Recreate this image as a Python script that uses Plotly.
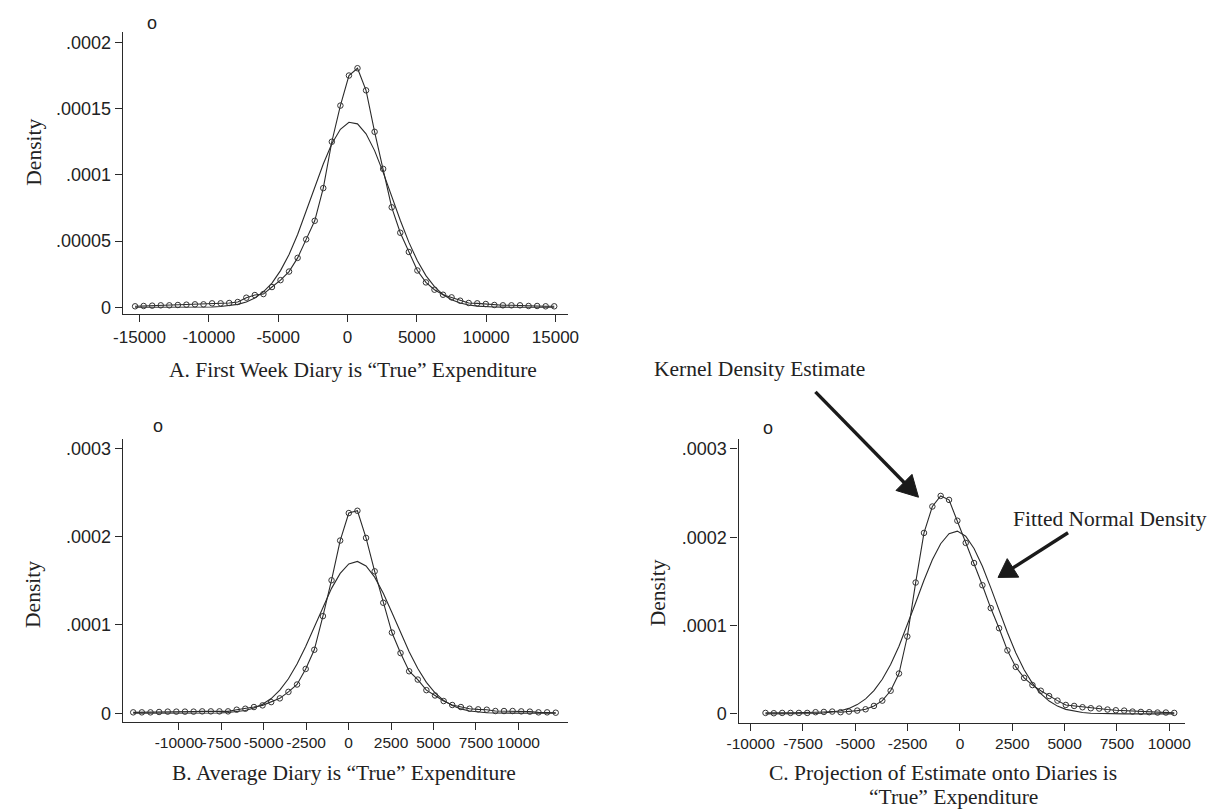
import math
import plotly.graph_objects as go

# ---------------- data ----------------
# Panel A: First week diary
a_x = [-15320, -14703, -14086, -13469, -12852, -12235, -11618, -11001, -10384, -9767,
       -9150, -8533, -7916, -7299, -6682, -6065, -5448, -4831, -4214, -3597,
       -2980, -2363, -1746, -1129, -512, 105, 722, 1339, 1956, 2573,
       3190, 3807, 4424, 5041, 5658, 6275, 6892, 7509, 8126, 8743,
       9360, 9977, 10594, 11211, 11828, 12445, 13062, 13679, 14296, 14913]
a_kernel = [0.75e-6, 1.0e-6, 1.25e-6, 1.5e-6, 1.5e-6, 1.75e-6, 2.0e-6, 2.25e-6, 2.25e-6, 3.0e-6,
            3.0e-6, 3.25e-6, 4.0e-6, 7.25e-6, 9.25e-6, 1.0e-5, 1.53e-5, 2.05e-5, 2.7e-5, 3.73e-5,
            5.13e-5, 6.53e-5, 9.0e-5, 1.25e-4, 1.523e-4, 1.75e-4, 1.805e-4, 1.638e-4, 1.325e-4, 1.045e-4,
            7.55e-5, 5.63e-5, 4.18e-5, 2.78e-5, 1.88e-5, 1.33e-5, 9.5e-6, 7.5e-6, 5.0e-6, 3.25e-6,
            3.0e-6, 2.5e-6, 1.75e-6, 1.5e-6, 1.5e-6, 1.5e-6, 1.0e-6, 1.0e-6, 0.75e-6, 0.75e-6]
a_normal = [0, 0, 0, 0, 0, 0, 0, 0.05e-6, 0.12e-6, 0.27e-6,
            0.57e-6, 1.15e-6, 2.2e-6, 4.0e-6, 7.0e-6, 1.16e-5, 1.83e-5, 2.77e-5, 3.99e-5, 5.50e-5,
            7.22e-5, 9.05e-5, 1.082e-4, 1.235e-4, 1.344e-4, 1.397e-4, 1.385e-4, 1.310e-4, 1.183e-4, 1.019e-4,
            8.37e-5, 6.57e-5, 4.92e-5, 3.51e-5, 2.39e-5, 1.56e-5, 9.6e-6, 5.7e-6, 3.2e-6, 1.7e-6,
            0.9e-6, 0.44e-6, 0.2e-6, 0.1e-6, 0, 0, 0, 0, 0, 0]

# Panel B: Average diary
b_x = [-12687, -12179, -11671, -11163, -10655, -10147, -9639, -9131, -8623, -8115,
       -7607, -7099, -6591, -6083, -5575, -5067, -4559, -4051, -3543, -3035,
       -2527, -2019, -1511, -1003, -495, 13, 521, 1029, 1537, 2045,
       2553, 3061, 3569, 4077, 4585, 5093, 5601, 6109, 6617, 7125,
       7633, 8141, 8649, 9157, 9665, 10173, 10681, 11189, 11697, 12205]
b_kernel = [1.1e-6, 1.1e-6, 1.1e-6, 1.5e-6, 1.9e-6, 1.9e-6, 1.9e-6, 1.9e-6, 2.2e-6, 2.2e-6,
            2.2e-6, 2.2e-6, 4.1e-6, 5.2e-6, 7.1e-6, 9.0e-6, 1.27e-5, 1.69e-5, 2.43e-5, 3.26e-5,
            5.02e-5, 7.19e-5, 1.10e-4, 1.506e-4, 1.955e-4, 2.266e-4, 2.292e-4, 1.985e-4, 1.607e-4, 1.251e-4,
            9.14e-5, 6.82e-5, 4.76e-5, 3.82e-5, 2.62e-5, 2.02e-5, 1.39e-5, 9.4e-6, 7.1e-6, 5.2e-6,
            4.5e-6, 4.1e-6, 2.6e-6, 2.6e-6, 2.6e-6, 2.2e-6, 1.9e-6, 1.1e-6, 1.1e-6, 0.7e-6]
b_normal = [0, 0, 0, 0, 0, 0, 0, 0, 0.08e-6, 0.19e-6,
            0.41e-6, 0.86e-6, 1.72e-6, 3.26e-6, 5.9e-6, 1.02e-5, 1.67e-5, 2.62e-5, 3.91e-5, 5.57e-5,
            7.55e-5, 9.77e-5, 1.204e-4, 1.414e-4, 1.583e-4, 1.690e-4, 1.719e-4, 1.667e-4, 1.541e-4, 1.358e-4,
            1.140e-4, 9.13e-5, 6.97e-5, 5.07e-5, 3.51e-5, 2.32e-5, 1.46e-5, 8.8e-6, 5.0e-6, 2.7e-6,
            1.4e-6, 0.7e-6, 0.3e-6, 0.13e-6, 0, 0, 0, 0, 0, 0]

# Panel C: Projection of estimate onto diaries
c_x = [-9289, -8891, -8492, -8094, -7695, -7297, -6898, -6500, -6101, -5703,
       -5304, -4906, -4507, -4109, -3710, -3312, -2913, -2515, -2116, -1718,
       -1319, -921, -522, -124, 275, 673, 1072, 1470, 1869, 2267,
       2666, 3064, 3463, 3861, 4260, 4658, 5057, 5455, 5854, 6252,
       6651, 7049, 7448, 7846, 8245, 8643, 9042, 9440, 9839, 10237]
c_kernel = [1.1e-6, 0.75e-6, 1.1e-6, 1.1e-6, 1.1e-6, 1.1e-6, 1.9e-6, 2.2e-6, 2.6e-6, 1.9e-6,
            2.6e-6, 3.7e-6, 5.2e-6, 9.0e-6, 1.50e-5, 2.62e-5, 4.57e-5, 8.76e-5, 1.487e-4, 2.049e-4,
            2.348e-4, 2.468e-4, 2.423e-4, 2.187e-4, 1.936e-4, 1.708e-4, 1.457e-4, 1.198e-4, 9.70e-5, 7.19e-5,
            5.32e-5, 4.08e-5, 3.26e-5, 2.62e-5, 2.02e-5, 1.50e-5, 1.01e-5, 9.0e-6, 7.5e-6, 6.4e-6,
            6.0e-6, 4.9e-6, 4.1e-6, 3.7e-6, 2.6e-6, 2.2e-6, 1.9e-6, 1.5e-6, 1.5e-6, 1.1e-6]
c_normal = [0, 0, 0, 0.05e-6, 0.11e-6, 0.24e-6, 0.49e-6, 0.99e-6, 1.9e-6, 3.5e-6,
            6.2e-6, 1.05e-5, 1.70e-5, 2.63e-5, 3.92e-5, 5.59e-5, 7.65e-5, 1.002e-4, 1.258e-4, 1.513e-4,
            1.745e-4, 1.927e-4, 2.040e-4, 2.069e-4, 2.011e-4, 1.873e-4, 1.672e-4, 1.430e-4, 1.172e-4, 9.21e-5,
            6.92e-5, 5.0e-5, 3.45e-5, 2.29e-5, 1.45e-5, 8.8e-6, 5.1e-6, 2.9e-6, 1.5e-6, 0.75e-6,
            0.35e-6, 0.15e-6, 0.06e-6, 0, 0, 0, 0, 0, 0, 0]

# Tick values / labels
a_xticks = [-15000, -10000, -5000, 0, 5000, 10000, 15000]
a_xlabels = ["-15000", "-10000", "-5000", "0", "5000", "10000", "15000"]
a_yticks = [0, 0.00005, 0.0001, 0.00015, 0.0002]
a_ylabels = ["0", ".00005", ".0001", ".00015", ".0002"]
bc_xticks = [-10000, -7500, -5000, -2500, 0, 2500, 5000, 7500, 10000]
bc_xlabels = ["-10000", "-7500", "-5000", "-2500", "0", "2500", "5000", "7500", "10000"]
bc_yticks = [0, 0.0001, 0.0002, 0.0003]
bc_ylabels = ["0", ".0001", ".0002", ".0003"]

titles = {
    "A": "A. First Week Diary is \u201cTrue\u201d Expenditure",
    "B": "B. Average Diary is \u201cTrue\u201d Expenditure",
    "C1": "C. Projection of Estimate onto Diaries is",
    "C2": "\u201cTrue\u201d Expenditure",
}

# ---------------- layout helpers ----------------
W, H = 1210, 812
INK = "#2a2a2a"
SANS = "Liberation Sans, Arial, sans-serif"
SERIF = "Liberation Serif, Times New Roman, serif"
SERIF_SIZE = 21.5


def px(x):
    return x / W


def py(y):
    return 1 - y / H


fig = go.Figure()

panels = [
    ("x", "y", a_x, a_kernel, a_normal),
    ("x2", "y2", b_x, b_kernel, b_normal),
    ("x3", "y3", c_x, c_kernel, c_normal),
]
for xa, ya, xs, kern, norm in panels:
    fig.add_trace(go.Scatter(x=xs, y=norm, mode="lines", xaxis=xa, yaxis=ya,
                             line=dict(color=INK, width=1.1), hoverinfo="skip",
                             showlegend=False))
    fig.add_trace(go.Scatter(x=xs, y=kern, mode="lines+markers", xaxis=xa, yaxis=ya,
                             line=dict(color=INK, width=1.1),
                             marker=dict(symbol="circle-open", size=5.5,
                                         color="#333333", line=dict(width=1)),
                             showlegend=False))


def xax(domain, rng, tv, tt, fs):
    return dict(domain=domain, range=rng, tickvals=tv, ticktext=tt, tickangle=0,
                showline=True, linecolor=INK, linewidth=1.2, mirror=False,
                ticks="outside", ticklen=7, tickwidth=1.2, tickcolor=INK,
                showgrid=False, zeroline=False,
                tickfont=dict(family=SANS, size=fs, color="#222"))


def yax(domain, rng, tv, tt, anchor):
    return dict(domain=domain, range=rng, tickvals=tv, ticktext=tt, anchor=anchor,
                showline=True, linecolor=INK, linewidth=1.2,
                ticks="outside", ticklen=7, tickwidth=1.2, tickcolor=INK,
                showgrid=False, zeroline=False,
                tickfont=dict(family=SANS, size=18, color="#222"))


fig.update_layout(
    width=W, height=H, autosize=False,
    margin=dict(l=0, r=0, t=0, b=0),
    paper_bgcolor="white", plot_bgcolor="white",
    showlegend=False,
    xaxis=dict(**xax([px(112.7), px(566.7)], [-16218, 15935], a_xticks, a_xlabels, 17), anchor="y"),
    yaxis=yax([py(315), py(31)], [-5.1e-6, 2.08e-4], a_yticks, a_ylabels, "x"),
    xaxis2=dict(**xax([px(112.7), px(566.7)], [-13310, 12951], bc_xticks, bc_xlabels, 15.5), anchor="y2"),
    yaxis2=yax([py(725), py(441)], [-9.3e-6, 3.101e-4], bc_yticks, bc_ylabels, "x2"),
    xaxis3=dict(**xax([px(740), px(1195)], [-10577, 10764], bc_xticks, bc_xlabels, 15.5), anchor="y3"),
    yaxis3=yax([py(726), py(440.7)], [-9.8e-6, 3.1125e-4], bc_yticks, bc_ylabels, "x3"),
)

ann = []


def text(x, y, s, font, size, xanchor="center", angle=0):
    ann.append(dict(x=px(x), y=py(y), xref="paper", yref="paper", text=s,
                    showarrow=False, xanchor=xanchor, yanchor="middle",
                    textangle=angle, font=dict(family=font, size=size, color="#222")))


# panel titles (x-axis titles)
text(347.5, 371.7, titles["A"], SERIF, SERIF_SIZE)
text(338, 776.7, titles["B"], SERIF, SERIF_SIZE)
text(948.6, 776.7, titles["C1"], SERIF, SERIF_SIZE)
text(958.6, 801.0, titles["C2"], SERIF, SERIF_SIZE)
# y-axis titles
text(22, 152, "Density", SERIF, SERIF_SIZE, angle=-90)
text(22, 597, "Density", SERIF, SERIF_SIZE, angle=-90)
text(658, 596, "Density", SERIF, SERIF_SIZE, angle=-90)
# stray "o" marks
text(143, 21.7, "o", SANS, 18)
text(149, 428, "o", SANS, 18)
text(770, 430, "o", SANS, 18)
# arrow labels
text(761.3, 370, "Kernel Density Estimate", SERIF, SERIF_SIZE)
text(1017.5, 521.7, "Fitted Normal Density", SERIF, SERIF_SIZE, xanchor="left")

shapes = []


def arrow(tail, tip, head_len, head_w, lw):
    dx, dy = tip[0] - tail[0], tip[1] - tail[1]
    L = math.hypot(dx, dy)
    ux, uy = dx / L, dy / L
    bx, by = tip[0] - ux * head_len, tip[1] - uy * head_len
    nx, ny = -uy, ux
    p1 = (bx + nx * head_w / 2, by + ny * head_w / 2)
    p2 = (bx - nx * head_w / 2, by - ny * head_w / 2)
    shapes.append(dict(type="line", xref="paper", yref="paper",
                       x0=px(tail[0]), y0=py(tail[1]),
                       x1=px(bx + ux * 2), y1=py(by + uy * 2),
                       line=dict(color="#1a1a1a", width=lw)))
    path = "M {:.5f} {:.5f} L {:.5f} {:.5f} L {:.5f} {:.5f} Z".format(
        px(tip[0]), py(tip[1]), px(p1[0]), py(p1[1]), px(p2[0]), py(p2[1]))
    shapes.append(dict(type="path", xref="paper", yref="paper", path=path,
                       fillcolor="#1a1a1a", line=dict(color="#1a1a1a", width=1)))


arrow((818.3, 393.3), (923.3, 499.3), 21, 23, 3.4)
arrow((1075.6, 535.0), (1004.3, 580.0), 18, 22, 3.4)

fig.update_layout(annotations=ann, shapes=shapes)

fig.write_html(
    "out.html",
    config={"displayModeBar": False},
    post_script="document.body.style.margin='0';document.body.style.overflow='hidden';",
)
